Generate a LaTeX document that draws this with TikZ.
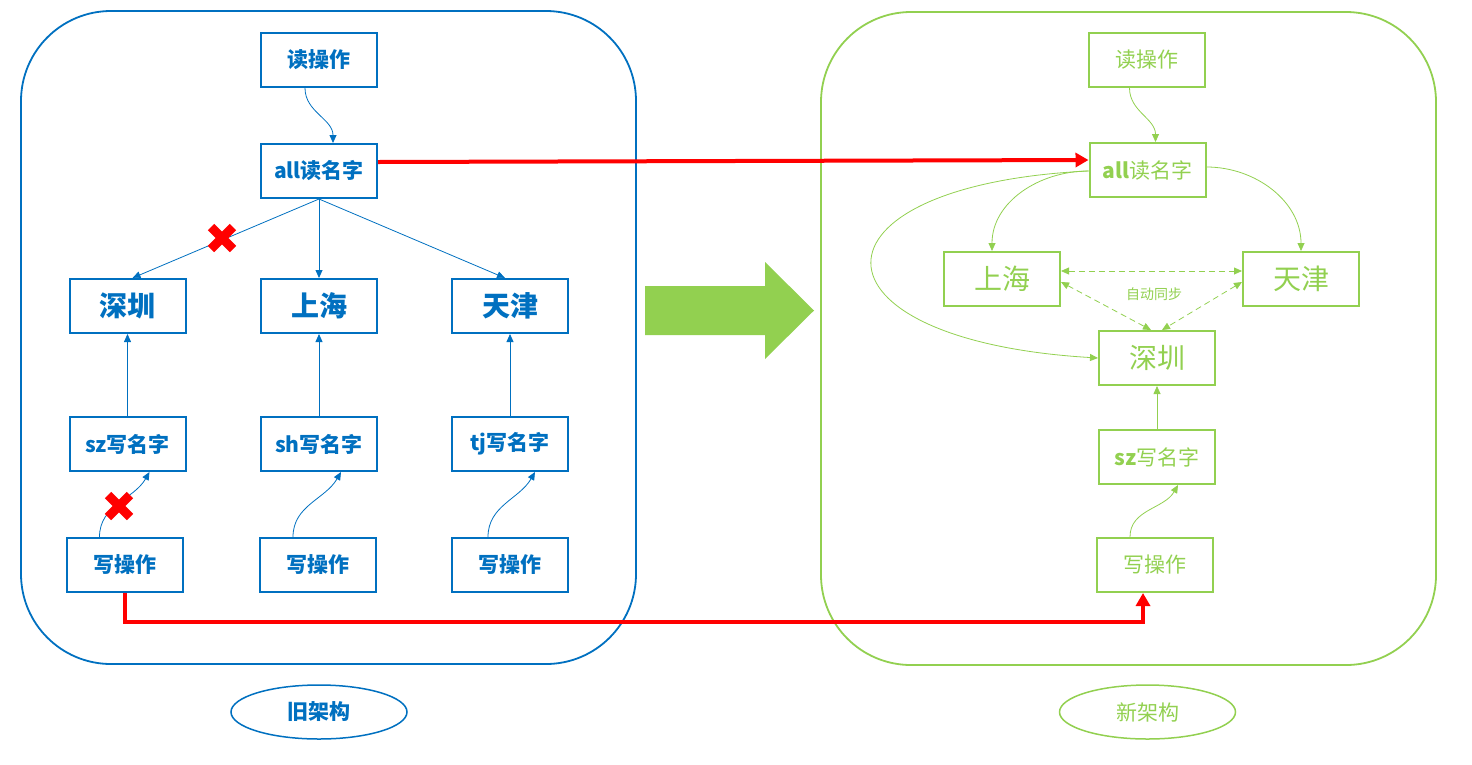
\documentclass[tikz,border=0pt]{standalone}
\usepackage{fontspec}
\newfontfamily\cjk{Noto Sans CJK SC}
\usetikzlibrary{arrows.meta,shapes.geometric}
\definecolor{oldblue}{HTML}{0070C0}
\definecolor{newgreen}{HTML}{92D050}

\begin{document}
\begin{tikzpicture}[x=1pt,y=-1pt,
  box/.style={draw,line width=2pt,minimum width=116pt,minimum height=54pt,inner sep=0pt,font=\cjk\bfseries\fontsize{21}{21}\selectfont},
  city/.style={box,font=\cjk\bfseries\fontsize{28}{28}\selectfont},
  tag/.style={draw,ellipse,line width=1.5pt,minimum width=176pt,minimum height=54pt,inner sep=0pt,font=\cjk\bfseries\fontsize{21}{21}\selectfont},
  link/.style={line width=0.8pt,-{Triangle[length=8pt,width=7pt]}},
  sync/.style={line width=0.8pt,dash pattern=on 6pt off 4pt,{Triangle[length=8pt,width=7pt]}-{Triangle[length=8pt,width=7pt]}},
  redline/.style={red,line width=4pt,-{Triangle[length=13pt,width=14pt]}},
  redx/.style={red,line width=9pt}
]
\useasboundingbox (0,0) rectangle (1472,764);

\draw[oldblue,line width=1.8pt,rounded corners=90pt] (21,11) rectangle (636,664);
\draw[newgreen,line width=1.8pt,rounded corners=90pt] (821,12) rectangle (1436,665);

\begin{scope}[every node/.append style={oldblue}]
\node[box] (rd) at (319,60) {读操作};
\node[box] (ra) at (319,171) {all读名字};
\node[city] (sz) at (127.5,306) {深圳};
\node[city] (sh) at (319,306) {上海};
\node[city] (tj) at (510,306) {天津};
\node[box] (wsz) at (127.5,444) {sz写名字};
\node[box] (wsh) at (319,444) {sh写名字};
\node[box] (wtj) at (510,444) {tj写名字};
\node[box] (wo1) at (124.5,565) {写操作};
\node[box] (wo2) at (318,565) {写操作};
\node[box] (wo3) at (510,565) {写操作};
\node[tag] (old) at (319,712) {旧架构};
\end{scope}

\begin{scope}[every node/.append style={newgreen},box/.append style={font=\cjk\fontsize{21}{21}\selectfont},city/.append style={font=\cjk\fontsize{28}{28}\selectfont}]
\node[box] (nrd) at (1146.5,60) {读操作};
\node[box] (nra) at (1147.5,170) {\textbf{all}读名字};
\node[city] (nsh) at (1002,279) {上海};
\node[city] (ntj) at (1301,279) {天津};
\node[city] (nsz) at (1157,358) {深圳};
\node[box] (nwsz) at (1157,457) {\textbf{sz}写名字};
\node[box] (nwo) at (1155,565) {写操作};
\node[tag,font=\cjk\fontsize{21}{21}\selectfont] (new) at (1147.5,712) {新架构};
\node[font=\cjk\fontsize{14}{14}\selectfont] (auto) at (1154,294) {自动同步};
\end{scope}

\begin{scope}[oldblue]
\draw[link] ([xshift=-14pt]rd.south) to[out=-90,in=90] ([xshift=14pt]ra.north);
\draw[link] (ra.south) -- ([xshift=5pt]sz.north);
\draw[link] (ra.south) -- (sh.north);
\draw[link] (ra.south) -- ([xshift=-5pt]tj.north);
\draw[link] (wsz.north) -- (sz.south);
\draw[link] (wsh.north) -- (sh.south);
\draw[link] (wtj.north) -- (tj.south);
\draw[link] ([xshift=-25pt]wo1.north) to[out=90,in=240] ([xshift=22pt]wsz.south);
\draw[link] ([xshift=-25pt]wo2.north) to[out=90,in=240] ([xshift=22pt]wsh.south);
\draw[link] ([xshift=-22pt]wo3.north) to[out=90,in=240] ([xshift=25pt]wtj.south);
\end{scope}

\begin{scope}[newgreen]
\draw[link] ([xshift=-17pt]nrd.south) to[out=-90,in=90] ([xshift=8pt]nra.north);
\draw[link] ([yshift=-1pt]nra.west) to[out=180,in=90] ([xshift=-10pt]nsh.north);
\draw[link] ([yshift=3pt]nra.east) to[out=0,in=90] (ntj.north);
\draw[link] ([yshift=-1pt]nra.west) .. controls (798,185) and (798,340) .. (nsz.west);
\draw[sync] ([yshift=8pt]nsh.east) -- ([yshift=8pt]ntj.west);
\draw[sync] ([yshift=-3pt]nsh.east) -- ([xshift=-6pt]nsz.north);
\draw[sync] ([yshift=-3pt]ntj.west) -- ([xshift=5pt]nsz.north);
\draw[link] (nwsz.north) -- (nsz.south);
\draw[link] ([xshift=-25pt]nwo.north) to[out=90,in=240] ([xshift=21pt]nwsz.south);
\end{scope}

\draw[redline] ([yshift=9pt]ra.east) -- ([yshift=10pt]nra.west);
\draw[redline] (wo1.south) -- ++(0,29) -| ([xshift=-12pt]nwo.south);

\fill[newgreen] (645,286) -- (765,286) -- (765,262) -- (814,310.5) -- (765,359) -- (765,335) -- (645,335) -- cycle;

\foreach \cx/\cy in {222/238, 119/506}
  \draw[redx] (\cx-11,\cy-11) -- (\cx+11,\cy+11) (\cx-11,\cy+11) -- (\cx+11,\cy-11);

\end{tikzpicture}
\end{document}
